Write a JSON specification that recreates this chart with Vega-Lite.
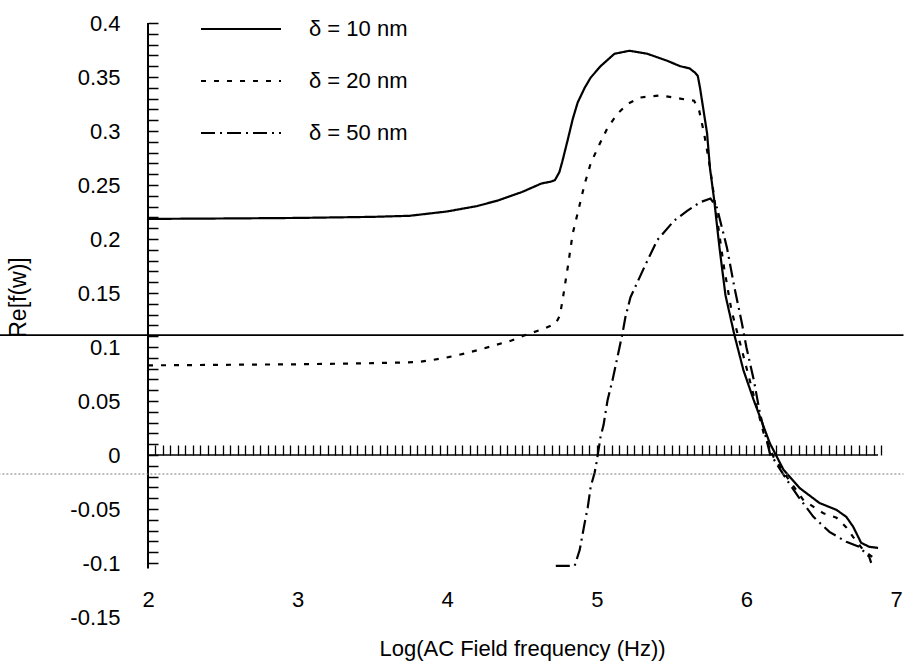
{
  "$schema": "https://vega.github.io/schema/vega-lite/v6.json",
  "width": 748,
  "height": 594,
  "autosize": {"type": "none"},
  "padding": {"left": 148, "top": 23, "right": 9, "bottom": 53},
  "background": "white",
  "config": {
    "view": {"stroke": null},
    "axis": {"grid": false, "labelFont": "Liberation Sans", "titleFont": "Liberation Sans", "labelColor": "black", "titleColor": "black", "titleFontWeight": "normal"}
  },
  "datasets": {
    "curves": [
      {"series": "δ = 10 nm", "x": 2.0, "y": 0.2186},
      {"series": "δ = 10 nm", "x": 2.5, "y": 0.219},
      {"series": "δ = 10 nm", "x": 3.0, "y": 0.2195},
      {"series": "δ = 10 nm", "x": 3.5, "y": 0.2205},
      {"series": "δ = 10 nm", "x": 3.75, "y": 0.2215},
      {"series": "δ = 10 nm", "x": 4.0, "y": 0.2255},
      {"series": "δ = 10 nm", "x": 4.2, "y": 0.2305},
      {"series": "δ = 10 nm", "x": 4.34, "y": 0.2357},
      {"series": "δ = 10 nm", "x": 4.5, "y": 0.2435},
      {"series": "δ = 10 nm", "x": 4.63, "y": 0.2514},
      {"series": "δ = 10 nm", "x": 4.69, "y": 0.253},
      {"series": "δ = 10 nm", "x": 4.72, "y": 0.2545},
      {"series": "δ = 10 nm", "x": 4.75, "y": 0.262},
      {"series": "δ = 10 nm", "x": 4.77, "y": 0.272},
      {"series": "δ = 10 nm", "x": 4.806, "y": 0.292},
      {"series": "δ = 10 nm", "x": 4.839, "y": 0.311},
      {"series": "δ = 10 nm", "x": 4.872, "y": 0.3263},
      {"series": "δ = 10 nm", "x": 4.919, "y": 0.34},
      {"series": "δ = 10 nm", "x": 4.959, "y": 0.3494},
      {"series": "δ = 10 nm", "x": 5.025, "y": 0.36},
      {"series": "δ = 10 nm", "x": 5.118, "y": 0.3715},
      {"series": "δ = 10 nm", "x": 5.218, "y": 0.3743},
      {"series": "δ = 10 nm", "x": 5.338, "y": 0.3715},
      {"series": "δ = 10 nm", "x": 5.471, "y": 0.365},
      {"series": "δ = 10 nm", "x": 5.557, "y": 0.36},
      {"series": "δ = 10 nm", "x": 5.62, "y": 0.358},
      {"series": "δ = 10 nm", "x": 5.657, "y": 0.354},
      {"series": "δ = 10 nm", "x": 5.675, "y": 0.351},
      {"series": "δ = 10 nm", "x": 5.69, "y": 0.34},
      {"series": "δ = 10 nm", "x": 5.737, "y": 0.298},
      {"series": "δ = 10 nm", "x": 5.757, "y": 0.265},
      {"series": "δ = 10 nm", "x": 5.783, "y": 0.238},
      {"series": "δ = 10 nm", "x": 5.82, "y": 0.192},
      {"series": "δ = 10 nm", "x": 5.86, "y": 0.148},
      {"series": "δ = 10 nm", "x": 5.92, "y": 0.111},
      {"series": "δ = 10 nm", "x": 5.98, "y": 0.0786},
      {"series": "δ = 10 nm", "x": 6.049, "y": 0.0508},
      {"series": "δ = 10 nm", "x": 6.156, "y": 0.0111},
      {"series": "δ = 10 nm", "x": 6.249, "y": -0.0139},
      {"series": "δ = 10 nm", "x": 6.355, "y": -0.0305},
      {"series": "δ = 10 nm", "x": 6.488, "y": -0.0444},
      {"series": "δ = 10 nm", "x": 6.602, "y": -0.0508},
      {"series": "δ = 10 nm", "x": 6.668, "y": -0.0573},
      {"series": "δ = 10 nm", "x": 6.714, "y": -0.0665},
      {"series": "δ = 10 nm", "x": 6.767, "y": -0.0813},
      {"series": "δ = 10 nm", "x": 6.821, "y": -0.085},
      {"series": "δ = 10 nm", "x": 6.88, "y": -0.086},

      {"series": "δ =  20 nm", "x": 2.0, "y": 0.083},
      {"series": "δ =  20 nm", "x": 2.5, "y": 0.0835},
      {"series": "δ =  20 nm", "x": 3.0, "y": 0.084},
      {"series": "δ =  20 nm", "x": 3.5, "y": 0.085},
      {"series": "δ =  20 nm", "x": 3.8, "y": 0.086},
      {"series": "δ =  20 nm", "x": 3.895, "y": 0.0878},
      {"series": "δ =  20 nm", "x": 4.008, "y": 0.0906},
      {"series": "δ =  20 nm", "x": 4.12, "y": 0.094},
      {"series": "δ =  20 nm", "x": 4.227, "y": 0.098},
      {"series": "δ =  20 nm", "x": 4.32, "y": 0.1017},
      {"series": "δ =  20 nm", "x": 4.43, "y": 0.106},
      {"series": "δ =  20 nm", "x": 4.54, "y": 0.112},
      {"series": "δ =  20 nm", "x": 4.65, "y": 0.117},
      {"series": "δ =  20 nm", "x": 4.726, "y": 0.122},
      {"series": "δ =  20 nm", "x": 4.753, "y": 0.129},
      {"series": "δ =  20 nm", "x": 4.773, "y": 0.145},
      {"series": "δ =  20 nm", "x": 4.806, "y": 0.174},
      {"series": "δ =  20 nm", "x": 4.839, "y": 0.205},
      {"series": "δ =  20 nm", "x": 4.872, "y": 0.224},
      {"series": "δ =  20 nm", "x": 4.919, "y": 0.251},
      {"series": "δ =  20 nm", "x": 4.959, "y": 0.27},
      {"series": "δ =  20 nm", "x": 5.019, "y": 0.288},
      {"series": "δ =  20 nm", "x": 5.072, "y": 0.303},
      {"series": "δ =  20 nm", "x": 5.138, "y": 0.316},
      {"series": "δ =  20 nm", "x": 5.205, "y": 0.325},
      {"series": "δ =  20 nm", "x": 5.291, "y": 0.331},
      {"series": "δ =  20 nm", "x": 5.424, "y": 0.333},
      {"series": "δ =  20 nm", "x": 5.557, "y": 0.33},
      {"series": "δ =  20 nm", "x": 5.65, "y": 0.328},
      {"series": "δ =  20 nm", "x": 5.684, "y": 0.319},
      {"series": "δ =  20 nm", "x": 5.717, "y": 0.298},
      {"series": "δ =  20 nm", "x": 5.757, "y": 0.266},
      {"series": "δ =  20 nm", "x": 5.803, "y": 0.22},
      {"series": "δ =  20 nm", "x": 5.85, "y": 0.174},
      {"series": "δ =  20 nm", "x": 5.9, "y": 0.134},
      {"series": "δ =  20 nm", "x": 5.97, "y": 0.097},
      {"series": "δ =  20 nm", "x": 6.049, "y": 0.055},
      {"series": "δ =  20 nm", "x": 6.116, "y": 0.02},
      {"series": "δ =  20 nm", "x": 6.182, "y": -0.002},
      {"series": "δ =  20 nm", "x": 6.269, "y": -0.02},
      {"series": "δ =  20 nm", "x": 6.382, "y": -0.042},
      {"series": "δ =  20 nm", "x": 6.515, "y": -0.054},
      {"series": "δ =  20 nm", "x": 6.602, "y": -0.058},
      {"series": "δ =  20 nm", "x": 6.668, "y": -0.067},
      {"series": "δ =  20 nm", "x": 6.714, "y": -0.076},
      {"series": "δ =  20 nm", "x": 6.781, "y": -0.088},
      {"series": "δ =  20 nm", "x": 6.847, "y": -0.095},
      {"series": "δ =  20 nm", "x": 6.88, "y": -0.094},

      {"series": "δ =  50 nm", "x": 4.726, "y": -0.1026},
      {"series": "δ =  50 nm", "x": 4.852, "y": -0.1026},
      {"series": "δ =  50 nm", "x": 4.886, "y": -0.0878},
      {"series": "δ =  50 nm", "x": 4.919, "y": -0.0628},
      {"series": "δ =  50 nm", "x": 4.939, "y": -0.049},
      {"series": "δ =  50 nm", "x": 4.959, "y": -0.0296},
      {"series": "δ =  50 nm", "x": 4.985, "y": -0.0166},
      {"series": "δ =  50 nm", "x": 4.999, "y": -0.0065},
      {"series": "δ =  50 nm", "x": 5.025, "y": 0.0166},
      {"series": "δ =  50 nm", "x": 5.045, "y": 0.0277},
      {"series": "δ =  50 nm", "x": 5.072, "y": 0.0508},
      {"series": "δ =  50 nm", "x": 5.105, "y": 0.0693},
      {"series": "δ =  50 nm", "x": 5.138, "y": 0.0906},
      {"series": "δ =  50 nm", "x": 5.172, "y": 0.1128},
      {"series": "δ =  50 nm", "x": 5.191, "y": 0.1275},
      {"series": "δ =  50 nm", "x": 5.225, "y": 0.146},
      {"series": "δ =  50 nm", "x": 5.318, "y": 0.174},
      {"series": "δ =  50 nm", "x": 5.404, "y": 0.199},
      {"series": "δ =  50 nm", "x": 5.517, "y": 0.217},
      {"series": "δ =  50 nm", "x": 5.604, "y": 0.226},
      {"series": "δ =  50 nm", "x": 5.69, "y": 0.234},
      {"series": "δ =  50 nm", "x": 5.76, "y": 0.2375},
      {"series": "δ =  50 nm", "x": 5.803, "y": 0.229},
      {"series": "δ =  50 nm", "x": 5.87, "y": 0.192},
      {"series": "δ =  50 nm", "x": 5.92, "y": 0.155},
      {"series": "δ =  50 nm", "x": 5.97, "y": 0.122},
      {"series": "δ =  50 nm", "x": 6.0, "y": 0.0998},
      {"series": "δ =  50 nm", "x": 6.05, "y": 0.069},
      {"series": "δ =  50 nm", "x": 6.09, "y": 0.039},
      {"series": "δ =  50 nm", "x": 6.156, "y": 0.002},
      {"series": "δ =  50 nm", "x": 6.27, "y": -0.023},
      {"series": "δ =  50 nm", "x": 6.348, "y": -0.0388},
      {"series": "δ =  50 nm", "x": 6.448, "y": -0.0573},
      {"series": "δ =  50 nm", "x": 6.555, "y": -0.0712},
      {"series": "δ =  50 nm", "x": 6.668, "y": -0.0804},
      {"series": "δ =  50 nm", "x": 6.754, "y": -0.085},
      {"series": "δ =  50 nm", "x": 6.821, "y": -0.0943},
      {"series": "δ =  50 nm", "x": 6.834, "y": -0.0998}
    ],
    "yaxisline": [{"x": 2.0, "y": -0.105, "y2": 0.4}],
    "zeroline": [{"x": 2.0, "x2": 6.88, "y": 0}],
    "scanline": [{"x": 1.0, "x2": 7.05, "y": 0.111}],
    "scandots": [{"x": 1.0, "x2": 7.05, "y": -0.0176}]
  },
  "resolve": {"axis": {"x": "independent", "y": "independent"}},
  "layer": [
    {
      "data": {"name": "curves"},
      "mark": {"type": "line", "color": "black", "strokeWidth": 2.2},
      "encoding": {
        "x": {
          "field": "x", "type": "quantitative",
          "scale": {"domain": [2, 7], "nice": false, "zero": false},
          "axis": {
            "orient": "bottom", "domain": false, "ticks": false, "values": [2, 3, 4, 5, 6, 7],
            "labelFontSize": 22, "labelPadding": -28, "labelFlush": false,
            "title": "Log(AC Field frequency (Hz))", "titleFontSize": 22,
            "titleBaseline": "top", "titleY": 21
          }
        },
        "y": {
          "field": "y", "type": "quantitative",
          "scale": {"domain": [-0.15, 0.4], "nice": false, "zero": false},
          "axis": {
            "orient": "left", "domain": false,
            "values": [-0.15, -0.1, -0.09, -0.08, -0.07, -0.06, -0.05, -0.04, -0.03, -0.02, -0.01, 0, 0.01, 0.02, 0.03, 0.04, 0.05, 0.06, 0.07, 0.08, 0.09, 0.1, 0.11, 0.12, 0.13, 0.14, 0.15, 0.16, 0.17, 0.18, 0.19, 0.2, 0.21, 0.22, 0.23, 0.24, 0.25, 0.26, 0.27, 0.28, 0.29, 0.3, 0.31, 0.32, 0.33, 0.34, 0.35, 0.36, 0.37, 0.38, 0.39, 0.4],
            "tickSize": -10, "tickWidth": 1.5,
            "tickColor": {"condition": {"test": "datum.value < -0.12", "value": "transparent"}, "value": "black"},
            "labelExpr": "round(datum.value * 1000) % 50 == 0 ? '' + datum.value : ''",
            "labelFontSize": 22, "labelPadding": 38, "labelOverlap": false,
            "title": "Re[f(w)]", "titleFontSize": 23, "titleAngle": -90,
            "titleX": -130, "titleY": 274, "titleBaseline": "middle", "titleAlign": "center"
          }
        },
        "strokeDash": {
          "field": "series", "type": "nominal",
          "scale": {"domain": ["δ = 10 nm", "δ =  20 nm", "δ =  50 nm"], "range": [[1, 0], [5, 8], [14, 5, 2, 5]]},
          "legend": {
            "orient": "none", "legendX": 52, "legendY": -35, "title": null,
            "symbolType": "stroke", "symbolSize": 6400, "symbolStrokeWidth": 2, "symbolStrokeColor": "black",
            "labelFontSize": 22, "labelFont": "Liberation Sans", "labelColor": "black",
            "rowPadding": 0, "labelOffset": 27, "direction": "vertical"
          }
        }
      }
    },
    {
      "data": {"name": "yaxisline"},
      "mark": {"type": "rule", "color": "black", "strokeWidth": 2},
      "encoding": {
        "x": {"field": "x", "type": "quantitative", "axis": null},
        "y": {"field": "y", "type": "quantitative", "axis": null},
        "y2": {"field": "y2"}
      }
    },
    {
      "data": {"name": "zeroline"},
      "mark": {"type": "rule", "color": "black", "strokeWidth": 1.5},
      "encoding": {
        "x": {
          "field": "x", "type": "quantitative",
          "axis": {
            "orient": "bottom", "offset": -162, "domain": false, "labels": false, "title": null,
            "tickCount": 100, "tickSize": -10, "tickWidth": 1.3,
            "tickColor": {"condition": {"test": "datum.value < 2.03 || datum.value > 6.9", "value": "transparent"}, "value": "black"}
          }
        },
        "x2": {"field": "x2"},
        "y": {"field": "y", "type": "quantitative", "axis": null}
      }
    },
    {
      "data": {"name": "scanline"},
      "mark": {"type": "rule", "color": "black", "strokeWidth": 1.6},
      "encoding": {
        "x": {"field": "x", "type": "quantitative", "axis": null},
        "x2": {"field": "x2"},
        "y": {"field": "y", "type": "quantitative", "axis": null}
      }
    },
    {
      "data": {"name": "scandots"},
      "mark": {"type": "rule", "color": "#777777", "strokeWidth": 1, "strokeDash": [2, 2]},
      "encoding": {
        "x": {"field": "x", "type": "quantitative", "axis": null},
        "x2": {"field": "x2"},
        "y": {"field": "y", "type": "quantitative", "axis": null}
      }
    }
  ]
}
